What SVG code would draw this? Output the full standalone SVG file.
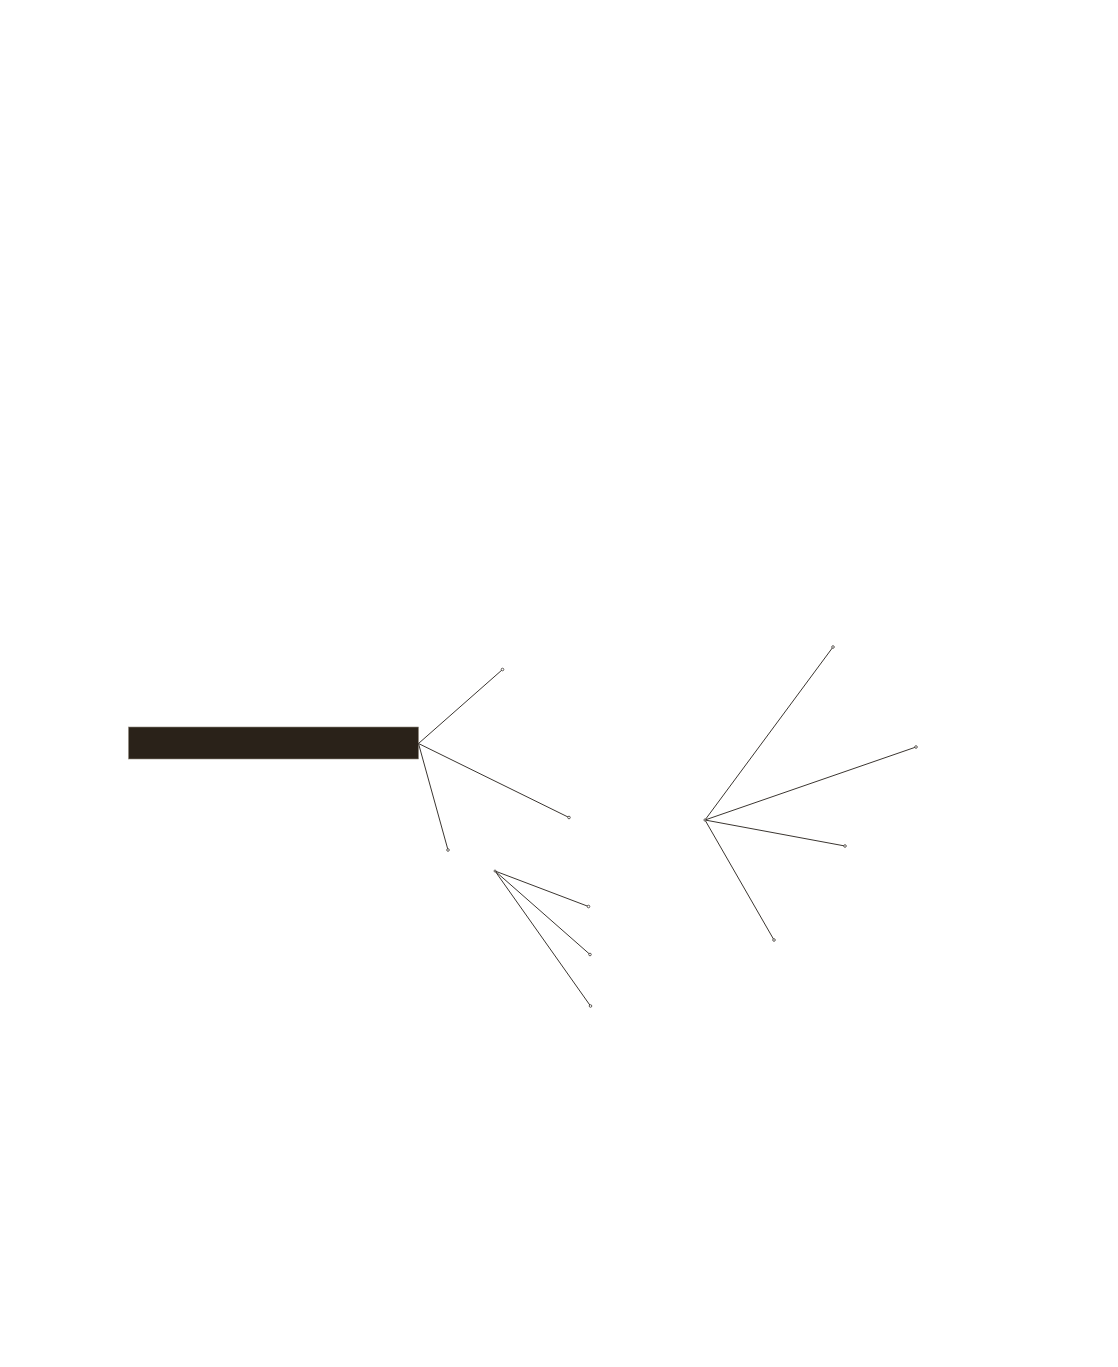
<svg xmlns="http://www.w3.org/2000/svg" width="1118" height="1367" viewBox="0 0 1118 1367">
<style>
.bar{fill:#2a2219;stroke:#8f897e;stroke-width:0.6}
.ln{stroke:#3b3631;stroke-width:1;fill:none}
.end{fill:#ffffff;stroke:#3b3631;stroke-width:0.8}
</style>
<rect x="0" y="0" width="1118" height="1367" fill="#ffffff"/>
<g id="bar-node">
<rect class="bar" x="128.5" y="727" width="290" height="32"/>
</g>
<g id="connectors">
<line class="ln" x1="418.5" y1="743.5" x2="502.5" y2="669.5"/>
<line class="ln" x1="418.5" y1="743.5" x2="569" y2="817.5"/>
<line class="ln" x1="418.5" y1="743.5" x2="448" y2="850"/>
<line class="ln" x1="495" y1="871" x2="588.5" y2="906.5"/>
<line class="ln" x1="495" y1="871" x2="590" y2="954.5"/>
<line class="ln" x1="495" y1="871" x2="590.5" y2="1006"/>
<line class="ln" x1="705" y1="820" x2="833" y2="647"/>
<line class="ln" x1="705" y1="820" x2="916" y2="747"/>
<line class="ln" x1="705" y1="820" x2="845" y2="846"/>
<line class="ln" x1="705" y1="820" x2="774" y2="940"/>
</g>
<g id="endpoints">
<circle class="end" cx="502.5" cy="669.5" r="1.3"/>
<circle class="end" cx="569" cy="817.5" r="1.3"/>
<circle class="end" cx="448" cy="850" r="1.3"/>
<circle class="end" cx="588.5" cy="906.5" r="1.3"/>
<circle class="end" cx="590" cy="954.5" r="1.3"/>
<circle class="end" cx="590.5" cy="1006" r="1.3"/>
<circle class="end" cx="833" cy="647" r="1.3"/>
<circle class="end" cx="916" cy="747" r="1.3"/>
<circle class="end" cx="845" cy="846" r="1.3"/>
<circle class="end" cx="774" cy="940" r="1.3"/>
<circle class="end" cx="705" cy="820" r="1.1"/>
<circle class="end" cx="495" cy="871" r="1"/>
</g>
</svg>
